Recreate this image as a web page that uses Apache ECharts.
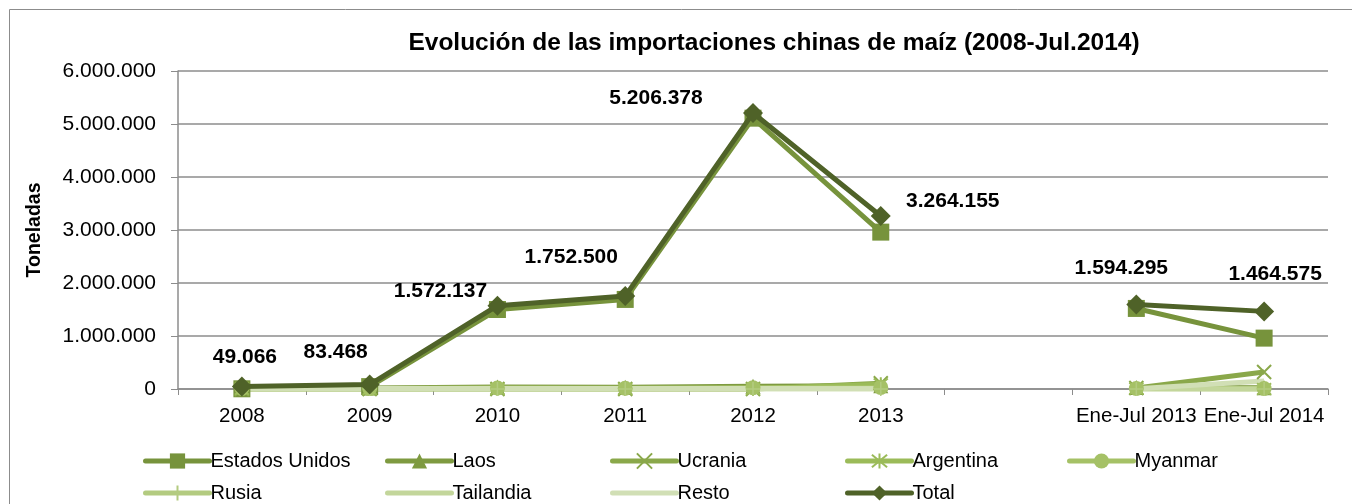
<!DOCTYPE html>
<html><head><meta charset="utf-8">
<script src="https://cdn.jsdelivr.net/npm/echarts@6/dist/echarts.min.js"></script>
<style>html,body{margin:0;padding:0;background:#fff}#c{width:1352px;height:504px}</style>
</head><body><div id="c"></div>
<script>
var categories = ['2008','2009','2010','2011','2012','2013','','Ene-Jul 2013','Ene-Jul 2014'];
var estadosUnidos = [4000, 45000, 1500000, 1690000, 5110000, 2960000, null, 1520000, 960000];
var laos = [25000, 20000, 40000, 35000, 50000, 60000, null, 30000, 25000];
var ucrania = [0, 0, 0, 0, 0, 110000, null, 20000, 320000];
var argentina = [0, 0, 0, 0, 0, 90000, null, 10000, 0];
var myanmar = [10000, 8000, 20000, 15000, 25000, 30000, null, 10000, 10000];
var rusia = [0, 0, 0, 0, 0, 0, null, 0, 0];
var tailandia = [0, 0, 5000, 2000, 10000, 10000, null, 0, 0];
var resto = [10066, 10468, 7137, 10500, 11378, 4155, null, 4295, 150000];
var total = [49066, 83468, 1572137, 1752500, 5206378, 3264155, null, 1594295, 1464575];
var yTicks = [0, 1000000, 2000000, 3000000, 4000000, 5000000, 6000000];

var labelOffsets = [[3,-5],[-34,-8],[-57,10],[-54,-14],[-97,10],[72,10],[0,0],[-15,-12],[11,-13]];

function fmt(v){
  var s = Math.round(v).toString();
  return s.replace(/\B(?=(\d{3})+(?!\d))/g, '.');
}
var FONT = 'Liberation Sans';
var chart = echarts.init(document.getElementById('c'), null, {renderer:'canvas'});

function mk(name, data, color, symbol, size, extra){
  var s = {
    name: name, type: 'line', data: data, connectNulls: false,
    symbol: symbol, symbolSize: size, showSymbol: symbol !== 'none',
    lineStyle: {color: color, width: 5},
    itemStyle: {color: color},
    z: 2, animation: false
  };
  if (extra) for (var k in extra) s[k] = extra[k];
  return s;
}
var xPath = 'path://M0,0L10,10M10,0L0,10';
var astPath = 'path://M0,0L10,10M10,0L0,10M5,-1L5,11';
var plusPath = 'path://M5,0L5,10M0,5L10,5';

var series = [
  mk('Estados Unidos', estadosUnidos, '#77933C', 'rect', 17),
  mk('Laos', laos, '#7E9A40', 'triangle', 15),
  mk('Ucrania', ucrania, '#8AA84A', xPath, 14, {itemStyle:{color:'rgba(0,0,0,0)', borderColor:'#8AA84A', borderWidth:2}}),
  mk('Argentina', argentina, '#9BBB59', astPath, 14, {itemStyle:{color:'rgba(0,0,0,0)', borderColor:'#9BBB59', borderWidth:2}}),
  mk('Myanmar', myanmar, '#A5C166', 'circle', 15),
  mk('Rusia', rusia, '#B3CB80', plusPath, 14, {itemStyle:{color:'rgba(0,0,0,0)', borderColor:'#B3CB80', borderWidth:1.5}}),
  mk('Tailandia', tailandia, '#C3D69B', 'none', 0, {itemStyle:{color:'#C3D69B', opacity:0}}),
  mk('Resto', resto, '#D1DFB5', 'none', 0, {itemStyle:{color:'#D1DFB5', opacity:0}}),
  mk('Total', total.map(function(v,i){
      return v === null ? null : {value: v, label: {offset: labelOffsets[i]}};
    }), '#4F6228', 'diamond', 20, {
    z: 3,
    label: {show: true, position: 'top', distance: 4, color: '#000', fontFamily: FONT,
      fontWeight: 'bold', fontSize: 21, formatter: function(p){return fmt(p.value);}}
  })
];

var legendCols = [
  {left: 143, names: ['Estados Unidos','Rusia']},
  {left: 385, names: ['Laos','Tailandia']},
  {left: 610, names: ['Ucrania','Resto']},
  {left: 845, names: ['Argentina','Total']},
  {left: 1067, names: ['Myanmar']}
];
var legends = legendCols.map(function(c){
  return {
    orient: 'vertical', left: c.left, top: 451, itemGap: 12,
    itemWidth: 64, itemHeight: 19, data: c.names,
    lineStyle: {width: 5, cap: 'round'},
    textStyle: {fontFamily: FONT, fontSize: 20, color: '#000', padding: [0,0,0,-4]},
    padding: 0
  };
});

chart.setOption({
  animation: false,
  backgroundColor: '#fff',
  title: {
    text: 'Evolución de las importaciones chinas de maíz (2008-Jul.2014)',
    left: 769, top: 26, textAlign: 'center',
    textStyle: {fontFamily: FONT, fontWeight: 'bold', fontSize: 24.5, color: '#000'}
  },
  graphic: [{type:'rect', shape:{x:9.5, y:9.5, width:1400, height:600},
    style:{fill:'none', stroke:'#8C8C8C', lineWidth:1}, silent:true, z:-10}],
  legend: legends,
  grid: {left: 178, right: 24, top: 71, bottom: 115},
  xAxis: {
    type: 'category', data: categories, boundaryGap: true,
    axisLine: {lineStyle: {color: '#8C8C8C', width: 1.5}},
    axisTick: {show: true, alignWithLabel: false, length: 6, inside: false, lineStyle: {color: '#8C8C8C'}},
    axisLabel: {fontFamily: FONT, fontSize: 20.5, color: '#000', margin: 17, interval: 0}
  },
  yAxis: {
    type: 'value', min: 0, max: 6000000, interval: 1000000,
    name: 'Toneladas', nameLocation: 'middle', nameGap: 133, nameRotate: 90,
    nameTextStyle: {fontFamily: FONT, fontWeight: 'bold', fontSize: 19.5, color: '#000'},
    axisLine: {show: true, lineStyle: {color: '#8C8C8C', width: 1.5}},
    axisTick: {show: true, length: 7, lineStyle: {color: '#8C8C8C'}},
    splitLine: {lineStyle: {color: '#8C8C8C', width: 1.5}},
    axisLabel: {fontFamily: FONT, fontSize: 21, color: '#000', margin: 22,
      formatter: function(v){ return yTicks.indexOf(v) >= 0 ? fmt(v) : ''; }}
  },
  series: series
});
</script></body></html>
